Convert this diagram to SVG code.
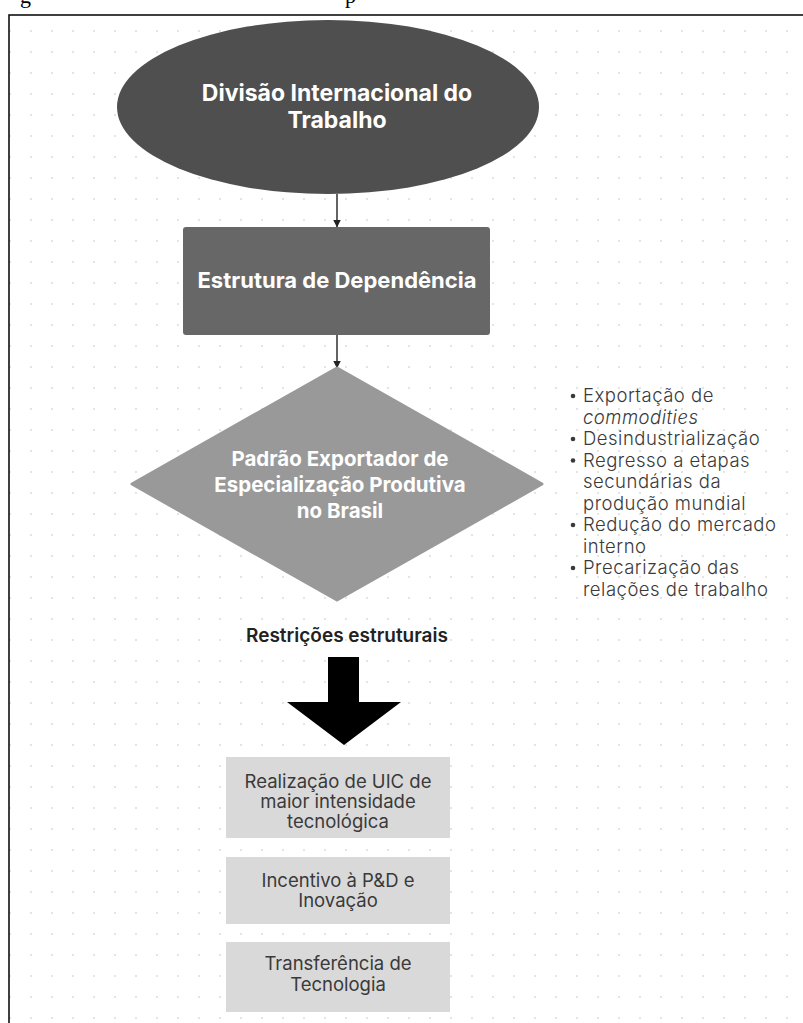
<svg xmlns="http://www.w3.org/2000/svg" width="803" height="1023" viewBox="0 0 803 1023">
  <style>
    .cap { font-family: "Liberation Serif", serif; font-size: 22px; fill: #000; }
    .head { font-family: Inter, "Noto Sans", sans-serif; font-weight: 700; fill: #ffffff; text-anchor: middle; }
    .label { font-family: Inter, "Noto Sans", sans-serif; font-weight: 400; font-size: 18.5px; fill: #3a3a3a; text-anchor: middle; }
    .note { font-family: Inter, "Noto Sans", sans-serif; font-weight: 300; font-size: 18.5px; letter-spacing: 0.5px; fill: #3a3a3a; }
    .link { stroke: #222; stroke-width: 1.4; fill: none; marker-end: url(#tip); }
  </style>
  <defs>
    <pattern id="dots" x="0" y="0" width="21" height="21" patternUnits="userSpaceOnUse">
      <rect x="9" y="9" width="2" height="2" fill="#e4e4e4"/>
    </pattern>
    <marker id="tip" viewBox="0 0 8 8" refX="7.5" refY="4" markerWidth="8" markerHeight="8" markerUnits="userSpaceOnUse" orient="auto">
      <path d="M0,0 L8,4 L0,8 Z" fill="#222"/>
    </marker>
  </defs>

  <rect width="803" height="1023" fill="#ffffff"/>

  <!-- caption line above the frame, clipped by the page edge -->
  <text class="cap" x="20" y="3">g</text>
  <text class="cap" x="345" y="3">p</text>

  <!-- frame with dotted canvas -->
  <rect x="9" y="15" width="820" height="1030" fill="url(#dots)" stroke="#111" stroke-width="1.6"/>

  <!-- connectors -->
  <g id="connectors">
    <line class="link" x1="337" y1="194" x2="337" y2="227"/>
    <line class="link" x1="337" y1="335" x2="337" y2="368"/>
    <path id="block-arrow" d="M328,657 H359 V702 H401 L344,745 L287,702 H328 Z" fill="#000"/>
  </g>

  <g id="divisao">
    <ellipse cx="328" cy="107" rx="211" ry="87" fill="#4f4f4f"/>
    <text class="head" font-size="23" x="337" y="101">Divisão Internacional do</text>
    <text class="head" font-size="23" x="337" y="128">Trabalho</text>
  </g>

  <g id="estrutura">
    <rect x="183" y="227" width="307" height="108" rx="3" fill="#676767"/>
    <text class="head" font-size="22" x="337" y="288">Estrutura de Dependência</text>
  </g>

  <g id="padrao">
    <polygon points="337,368 542,484 337,600 132,484" fill="#999999" stroke="#999999" stroke-width="3" stroke-linejoin="round"/>
    <text class="head" font-size="20.5" x="340" y="466">Padrão Exportador de</text>
    <text class="head" font-size="20.5" x="340" y="492">Especialização Produtiva</text>
    <text class="head" font-size="20.5" x="340" y="518">no Brasil</text>
  </g>

  <g id="consequencias">
    <circle cx="573" cy="396" r="2.3" fill="#3a3a3a"/>
    <circle cx="573" cy="439" r="2.3" fill="#3a3a3a"/>
    <circle cx="573" cy="460.5" r="2.3" fill="#3a3a3a"/>
    <circle cx="573" cy="525" r="2.3" fill="#3a3a3a"/>
    <circle cx="573" cy="568" r="2.3" fill="#3a3a3a"/>
    <text class="note" x="583" y="402">Exportação de</text>
    <text class="note" x="583" y="423.5" font-style="italic">commodities</text>
    <text class="note" x="583" y="445">Desindustrialização</text>
    <text class="note" x="583" y="466.5">Regresso a etapas</text>
    <text class="note" x="583" y="488">secundárias da</text>
    <text class="note" x="583" y="509.5">produção mundial</text>
    <text class="note" x="583" y="531">Redução do mercado</text>
    <text class="note" x="583" y="552.5">interno</text>
    <text class="note" x="583" y="574">Precarização das</text>
    <text class="note" x="583" y="595.5">relações de trabalho</text>
  </g>

  <g id="restricoes">
    <text x="347" y="642" font-family="Inter, 'Noto Sans', sans-serif" font-weight="600" font-size="19" fill="#222" text-anchor="middle">Restrições estruturais</text>
  </g>

  <g id="uic">
    <rect x="226" y="757" width="224" height="81" fill="#d9d9d9"/>
    <text class="label" x="338" y="788">Realização de UIC de</text>
    <text class="label" x="338" y="808">maior intensidade</text>
    <text class="label" x="338" y="828">tecnológica</text>
  </g>

  <g id="pd">
    <rect x="226" y="857" width="224" height="67" fill="#d9d9d9"/>
    <text class="label" x="338" y="887">Incentivo à P&amp;D e</text>
    <text class="label" x="338" y="907">Inovação</text>
  </g>

  <g id="transferencia">
    <rect x="226" y="942" width="224" height="70" fill="#d9d9d9"/>
    <text class="label" x="338" y="970">Transferência de</text>
    <text class="label" x="338" y="991">Tecnologia</text>
  </g>
</svg>
